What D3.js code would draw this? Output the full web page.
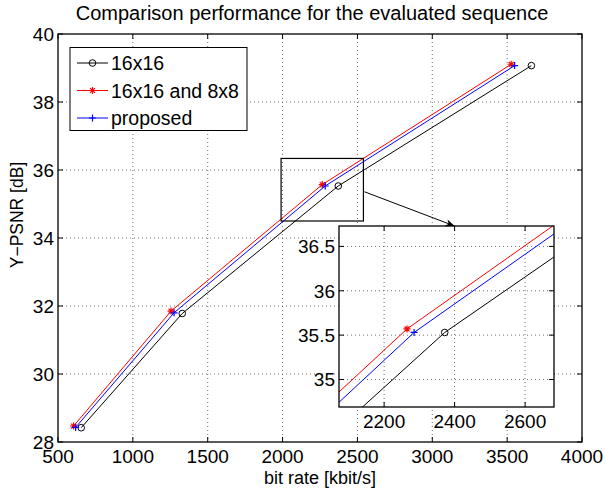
<!DOCTYPE html>
<html>
<head>
<meta charset="utf-8">
<script src="https://cdn.jsdelivr.net/npm/d3@7"></script>
<style>
  body { margin: 0; background: #fff; }
  svg { display: block; font-family: "Liberation Sans", Arial, Helvetica, sans-serif; }
</style>
</head>
<body>
<svg id="chart" width="605" height="488"></svg>
<script>
// 数据：三种方案的码率 / PSNR
const seriesNames = ["16x16", "16x16 and 8x8", "proposed"];
const rate16 = [655, 1330, 2372, 3662];
const psnr16 = [28.42, 31.78, 35.53, 39.07];
const rate168 = [604, 1255, 2265, 3527];
const psnr168 = [28.47, 31.85, 35.57, 39.11];
const rateProp = [618, 1275, 2285, 3550];
const psnrProp = [28.43, 31.80, 35.53, 39.07];

const xTicks = [500, 1000, 1500, 2000, 2500, 3000, 3500, 4000];
const yTicks = [28, 30, 32, 34, 36, 38, 40];
const insetXTicks = [2200, 2400, 2600];
const insetYTicks = [35, 35.5, 36, 36.5];

// 放大区域（主图中的矩形框）和局部放大图的坐标范围
const zoomBoxX = [1990, 2540];
const zoomBoxY = [34.5, 36.34];
const insetXDomain = [2072, 2682];
const insetYDomain = [34.69, 36.73];

const svg = d3.select("#chart");
const font = 19;

const series = [
  { name: seriesNames[0], rate: rate16, psnr: psnr16, color: "#000000", marker: "circle" },
  { name: seriesNames[1], rate: rate168, psnr: psnr168, color: "#ff0000", marker: "star" },
  { name: seriesNames[2], rate: rateProp, psnr: psnrProp, color: "#0000ff", marker: "plus" }
];

function drawMarker(g, type, cx, cy, color) {
  if (type === "circle") {
    g.append("circle").attr("cx", cx).attr("cy", cy).attr("r", 3.3)
      .attr("fill", "none").attr("stroke", color).attr("stroke-width", 1);
  } else if (type === "plus") {
    g.append("path").attr("d", `M${cx - 3.5},${cy}H${cx + 3.5}M${cx},${cy - 3.5}V${cy + 3.5}`)
      .attr("stroke", color).attr("stroke-width", 1.2);
  } else {
    const r = 3.5, d = r * 0.7;
    g.append("path")
      .attr("d", `M${cx - r},${cy}H${cx + r}M${cx},${cy - r}V${cy + r}M${cx - d},${cy - d}L${cx + d},${cy + d}M${cx - d},${cy + d}L${cx + d},${cy - d}`)
      .attr("stroke", color).attr("stroke-width", 1.2);
  }
}

// 画一个坐标区：网格、曲线、刻度、边框
function drawAxes(g, x, y, xt, yt, clipId) {
  const [x0, x1] = x.range();
  const [y0, y1] = y.range(); // y0 是底部
  g.append("rect").attr("x", x0).attr("y", y1).attr("width", x1 - x0).attr("height", y0 - y1)
    .attr("fill", "#fff");

  const grid = g.append("g").attr("stroke", "#333").attr("stroke-width", 0.7)
    .attr("stroke-dasharray", "1,3");
  xt.forEach(v => {
    if (x(v) <= x0 + 0.5 || x(v) >= x1 - 0.5) return;
    grid.append("line").attr("x1", x(v)).attr("x2", x(v)).attr("y1", y1).attr("y2", y0);
  });
  yt.forEach(v => {
    if (y(v) >= y0 - 0.5 || y(v) <= y1 + 0.5) return;
    grid.append("line").attr("y1", y(v)).attr("y2", y(v)).attr("x1", x0).attr("x2", x1);
  });

  svg.append("clipPath").attr("id", clipId).append("rect")
    .attr("x", x0).attr("y", y1).attr("width", x1 - x0).attr("height", y0 - y1);
  const plot = g.append("g").attr("clip-path", `url(#${clipId})`);
  const line = d3.line().x(d => x(d[0])).y(d => y(d[1]));
  series.forEach(s => {
    const pts = s.rate.map((r, i) => [r, s.psnr[i]]);
    plot.append("path").attr("d", line(pts)).attr("fill", "none")
      .attr("stroke", s.color).attr("stroke-width", 1);
    pts.forEach(p => drawMarker(plot, s.marker, x(p[0]), y(p[1]), s.color));
  });

  // 刻度线（朝内，四边）
  const ticks = g.append("g").attr("stroke", "#000").attr("stroke-width", 1);
  const tl = 5;
  xt.forEach(v => {
    ticks.append("line").attr("x1", x(v)).attr("x2", x(v)).attr("y1", y0).attr("y2", y0 - tl);
    ticks.append("line").attr("x1", x(v)).attr("x2", x(v)).attr("y1", y1).attr("y2", y1 + tl);
  });
  yt.forEach(v => {
    ticks.append("line").attr("y1", y(v)).attr("y2", y(v)).attr("x1", x0).attr("x2", x0 + tl);
    ticks.append("line").attr("y1", y(v)).attr("y2", y(v)).attr("x1", x1).attr("x2", x1 - tl);
  });

  g.append("rect").attr("x", x0).attr("y", y1).attr("width", x1 - x0).attr("height", y0 - y1)
    .attr("fill", "none").attr("stroke", "#000").attr("stroke-width", 1.3);

  const labels = g.append("g").attr("font-size", font).attr("fill", "#000");
  xt.forEach(v => {
    labels.append("text").attr("x", x(v)).attr("y", y0 + 21).attr("text-anchor", "middle").text(v);
  });
  yt.forEach(v => {
    labels.append("text").attr("x", x0 - 4).attr("y", y(v) + 7).attr("text-anchor", "end").text(v);
  });
}

// 主图
const x = d3.scaleLinear().domain([500, 4000]).range([58, 582]);
const y = d3.scaleLinear().domain([28, 40]).range([442, 34]);
drawAxes(svg.append("g"), x, y, xTicks, yTicks, "clipMain");

svg.append("text").attr("x", 312).attr("y", 20).attr("text-anchor", "middle")
  .attr("font-size", 20).text("Comparison performance for the evaluated sequence");
svg.append("text").attr("x", 320).attr("y", 483.5).attr("text-anchor", "middle")
  .attr("font-size", 18).text("bit rate [kbit/s]");
svg.append("text").attr("transform", "translate(23,215) rotate(-90)").attr("text-anchor", "middle")
  .attr("font-size", 17.5).text("Y\u2212PSNR [dB]");

// 图例
const legend = svg.append("g");
legend.append("rect").attr("x", 70).attr("y", 47.5).attr("width", 177).attr("height", 83)
  .attr("fill", "#fff").attr("stroke", "#000").attr("stroke-width", 1);
series.forEach((s, i) => {
  const ly = 63 + i * 27.5;
  legend.append("line").attr("x1", 77).attr("x2", 108).attr("y1", ly).attr("y2", ly)
    .attr("stroke", s.color).attr("stroke-width", 1);
  drawMarker(legend, s.marker, 92.5, ly, s.color);
  legend.append("text").attr("x", 111).attr("y", ly + 7).attr("font-size", 19.5).text(s.name);
});

// 主图中的放大框
svg.append("rect").attr("x", x(zoomBoxX[0])).attr("y", y(zoomBoxY[1]))
  .attr("width", x(zoomBoxX[1]) - x(zoomBoxX[0])).attr("height", y(zoomBoxY[0]) - y(zoomBoxY[1]))
  .attr("fill", "none").attr("stroke", "#000").attr("stroke-width", 1.2);

// 局部放大图
const xi = d3.scaleLinear().domain(insetXDomain).range([339, 554]);
const yi = d3.scaleLinear().domain(insetYDomain).range([407, 226]);
drawAxes(svg.append("g"), xi, yi, insetXTicks, insetYTicks, "clipInset");

// 箭头：从放大框指向局部图
svg.append("defs").append("marker").attr("id", "arrow").attr("viewBox", "0 0 10 10")
  .attr("refX", 10).attr("refY", 5).attr("markerWidth", 9).attr("markerHeight", 9)
  .attr("markerUnits", "userSpaceOnUse").attr("orient", "auto")
  .append("path").attr("d", "M0,1L10,5L0,9L3,5Z").attr("fill", "#000");
svg.append("line").attr("x1", x(zoomBoxX[1]) + 1).attr("y1", y(35.36))
  .attr("x2", xi(2400)).attr("y2", yi(insetYDomain[1]))
  .attr("stroke", "#000").attr("stroke-width", 1).attr("marker-end", "url(#arrow)");
</script>
</body>
</html>
